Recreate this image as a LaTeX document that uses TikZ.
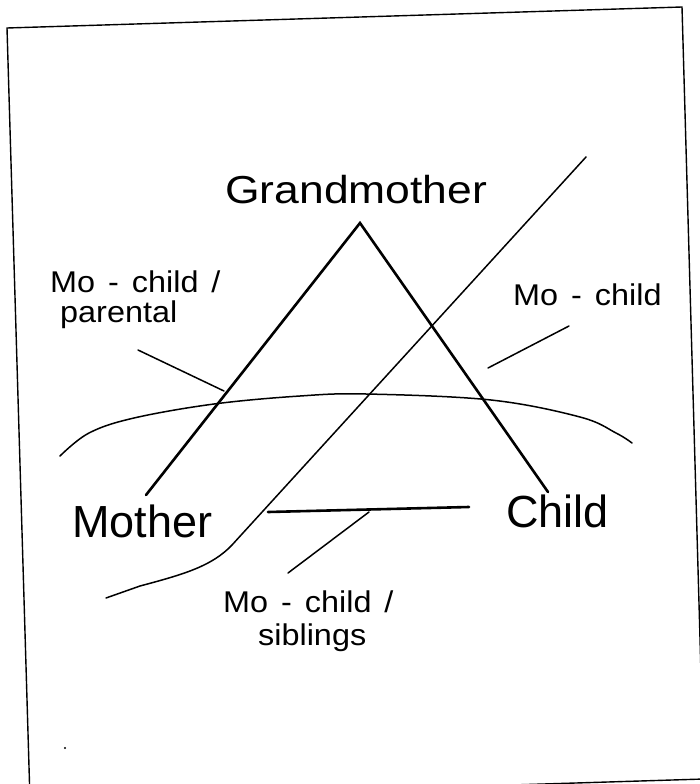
\documentclass[tikz,border=0pt]{standalone}
\usepackage{fontspec}
\setmainfont{Liberation Sans}
\begin{document}
\begin{tikzpicture}[x=1pt,y=-1pt,
  bigtxt/.style={font=\fontsize{45}{50}\selectfont, inner sep=0pt, anchor=base west},
  smalltxt/.style={font=\fontsize{30}{33}\selectfont, inner sep=0pt, anchor=base west},
  thickline/.style={line width=2.6pt, line cap=round},
  thinline/.style={line width=1.5pt, line cap=round},
  frameline/.style={line width=1.4pt}]
\useasboundingbox (0,0) rectangle (700,784);
\clip (0,0) rectangle (700,784);
% frame (slightly rotated, as in the scan)
\draw[frameline] (7,28) -- (682,7) -- (704,779) -- (30,800) -- cycle;
\fill (65,748) circle (1.2pt);

% main nodes
\node[bigtxt, font=\fontsize{39}{44}\selectfont] (gm) at (225,203) {\scalebox{1.14}[1]{Grandmother}};
\node[bigtxt] (mo) at (72,537) {Mother};
\node[bigtxt] (ch) at (506,527) {Child};

% named points
\coordinate (apex) at (360,223);
\coordinate (moTop) at (146,495);
\coordinate (chTop) at (548,492);
\coordinate (sibL) at (268,512);
\coordinate (sibR) at (469,507);

% relations
\draw[thickline] (moTop) -- (apex) -- (chTop);
\draw[thickline] (sibL) -- (sibR);

% boundary curves
\draw[thinline] plot[smooth, tension=0.6] coordinates
  {(60,456) (89,433) (134,418) (214,404) (300,396) (366,394) (491,400) (580,417) (616,433) (632,443)};
\coordinate (dTop) at (586,157);
\coordinate (dBend) at (232,545);
\coordinate (dEnd) at (106,598);
\draw[thinline] (dTop) -- (dBend) .. controls (212,566) and (185,574) .. (140,586) -- (dEnd);

% labels
\node[smalltxt] (lp1) at (50,292) {\scalebox{1.08}[1]{Mo\hspace{12pt}-\hspace{12pt}child\hspace{12pt}/}};
\node[smalltxt] (lp2) at (60,322) {\scalebox{1.08}[1]{parental}};
\node[smalltxt] (lr) at (513,305) {\scalebox{1.08}[1]{Mo\hspace{12pt}-\hspace{12pt}child}};
\node[smalltxt] (ls1) at (223,612) {\scalebox{1.08}[1]{Mo\hspace{12pt}-\hspace{12pt}child\hspace{12pt}/}};
\node[smalltxt] (ls2) at (258,645) {\scalebox{1.08}[1]{siblings}};

% pointers
\coordinate (pA) at (138,350);
\coordinate (pB) at (224,391);
\coordinate (rA) at (569,326);
\coordinate (rB) at (488,368);
\coordinate (sA) at (369,512);
\coordinate (sB) at (288,573);
\draw[thinline] (pA) -- (pB);
\draw[thinline] (rA) -- (rB);
\draw[thinline] (sA) -- (sB);
\end{tikzpicture}
\end{document}
